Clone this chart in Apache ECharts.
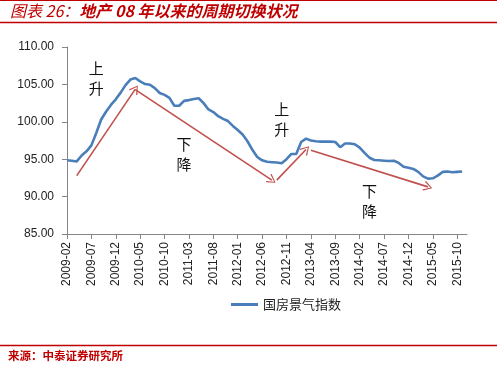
<!DOCTYPE html>
<html>
<head>
<meta charset="utf-8">
<script src="https://cdn.jsdelivr.net/npm/echarts@6/dist/echarts.min.js"></script>
<style>
html,body{margin:0;padding:0;background:#fff;}
#c{width:504px;height:368px;}
</style>
</head>
<body>
<div id="c"></div>
<script>
const categories = [
'2009-02','2009-03','2009-04','2009-05','2009-06','2009-07','2009-08','2009-09','2009-10','2009-11','2009-12',
'2010-01','2010-02','2010-03','2010-04','2010-05','2010-06','2010-07','2010-08','2010-09','2010-10','2010-11','2010-12',
'2011-01','2011-02','2011-03','2011-04','2011-05','2011-06','2011-07','2011-08','2011-09','2011-10','2011-11','2011-12',
'2012-01','2012-02','2012-03','2012-04','2012-05','2012-06','2012-07','2012-08','2012-09','2012-10','2012-11','2012-12',
'2013-01','2013-02','2013-03','2013-04','2013-05','2013-06','2013-07','2013-08','2013-09','2013-10','2013-11','2013-12',
'2014-01','2014-02','2014-03','2014-04','2014-05','2014-06','2014-07','2014-08','2014-09','2014-10','2014-11','2014-12',
'2015-01','2015-02','2015-03','2015-04','2015-05','2015-06','2015-07','2015-08','2015-09','2015-10','2015-11','2015-12'
];
const indexValues = [
94.85,94.8,94.7,95.5,96.05,96.85,98.5,100.3,101.35,102.25,103.0,
103.9,104.9,105.65,105.85,105.4,105.05,104.95,104.5,103.85,103.6,103.2,102.15,
102.15,102.8,102.9,103.05,103.15,102.5,101.65,101.3,100.75,100.4,100.1,99.45,
98.9,98.3,97.4,96.25,95.3,94.85,94.65,94.6,94.55,94.45,95.0,95.7,
95.7,97.3,97.75,97.5,97.4,97.35,97.35,97.35,97.3,96.6,97.1,97.1,
97.0,96.55,95.85,95.2,94.9,94.85,94.8,94.75,94.8,94.5,94.0,93.85,
93.7,93.3,92.7,92.4,92.45,92.8,93.3,93.35,93.25,93.3,93.35
];
const seriesName = '国房景气指数';
// trend arrows: [start index, start value, end index, end value]
const arrows = [
[2.25, 92.8, 13.67, 104.37],
[14.2, 104.3, 42.2, 92.2],
[42.5, 92.2, 49.4, 96.3],
[49.7, 96.2, 74.3, 91.3]
];
// phase labels: [index, value, text]
const phaseLabels = [
[5.9, 105.75, '上\n升'],
[24.3, 95.6, '下\n降'],
[44.0, 100.3, '上\n升'],
[61.8, 89.4, '下\n降']
];
const yTicks = {min: 85, max: 110, interval: 5};

const chevron = 'path://M5,0 L10,9 L9,10 L5,2 L1,10 L0,9 Z';
const red = '#c0504d';
const chart = echarts.init(document.getElementById('c'));
chart.setOption({
  animation: false,
  backgroundColor: '#fff',
  textStyle: {fontFamily: 'Liberation Sans, Arial, sans-serif'},
  grid: {left: 67, right: 37, top: 47, bottom: 134, containLabel: false},
  graphic: [
    {type: 'text', left: 10, top: 3, style: {
      rich: {
        a: {fontFamily: 'Noto Sans CJK SC', fontSize: 16, fontStyle: 'italic', fill: '#c00000'},
        b: {fontFamily: 'Noto Sans CJK SC', fontSize: 16, fontStyle: 'italic', fontWeight: 'bold', fill: '#c00000'}
      },
      text: '{a|图表 26：}{b|地产 08 年以来的周期切换状况}'
    }},
    {type: 'line', shape: {x1: 0, y1: 22.5, x2: 497, y2: 22.5}, style: {stroke: '#c00000', lineWidth: 1.5}},
    {type: 'line', shape: {x1: 0, y1: 0.5, x2: 497, y2: 0.5}, style: {stroke: '#c00000', lineWidth: 1}},
    {type: 'line', shape: {x1: 0, y1: 345.5, x2: 497, y2: 345.5}, style: {stroke: '#c00000', lineWidth: 1.5}},
    {type: 'text', left: 8, top: 350, style: {
      text: '来源：中泰证券研究所', fontFamily: 'Noto Sans CJK SC', fontSize: 11.5, fontWeight: 'bold', fill: '#c00000'
    }}
  ],
  legend: {
    left: 226, top: 293, itemWidth: 27, itemHeight: 3, itemGap: 4, icon: 'rect',
    textStyle: {fontFamily: 'Noto Sans CJK SC', fontSize: 13, color: '#222'},
    data: [seriesName]
  },
  xAxis: {
    type: 'category', data: categories, boundaryGap: false,
    axisLine: {lineStyle: {color: '#868686', width: 1}},
    axisTick: {interval: 4, length: 5, lineStyle: {color: '#868686'}},
    axisLabel: {interval: 4, rotate: 90, fontSize: 12, color: '#222', margin: 8},
    splitLine: {show: false}
  },
  yAxis: {
    type: 'value', min: yTicks.min, max: yTicks.max, interval: yTicks.interval,
    axisLine: {show: true, lineStyle: {color: '#868686', width: 1}},
    axisTick: {show: true, length: 5, lineStyle: {color: '#868686'}},
    axisLabel: {fontSize: 12, color: '#222', margin: 13, formatter: v => v.toFixed(2)},
    splitLine: {show: false}
  },
  series: [{
    name: seriesName, type: 'line', data: indexValues,
    symbol: 'none', smooth: false,
    lineStyle: {color: '#4a7ebb', width: 2.6},
    itemStyle: {color: '#4a7ebb'},
    markLine: {
      silent: true, symbol: ['none', chevron], symbolSize: [10, 9],
      lineStyle: {color: red, width: 1.6, type: 'solid'},
      label: {show: false},
      data: arrows.map(a => [{coord: [a[0], a[1]]}, {coord: [a[2], a[3]]}])
    },
    markPoint: {
      silent: true, symbol: 'circle', symbolSize: 1,
      itemStyle: {color: 'transparent'},
      label: {show: true, position: 'inside', fontFamily: 'Noto Sans CJK SC', fontSize: 15, lineHeight: 20, color: '#111', formatter: p => p.name},
      data: phaseLabels.map(p => ({name: p[2], coord: [p[0], p[1]]}))
    }
  }]
});
</script>
</body>
</html>
